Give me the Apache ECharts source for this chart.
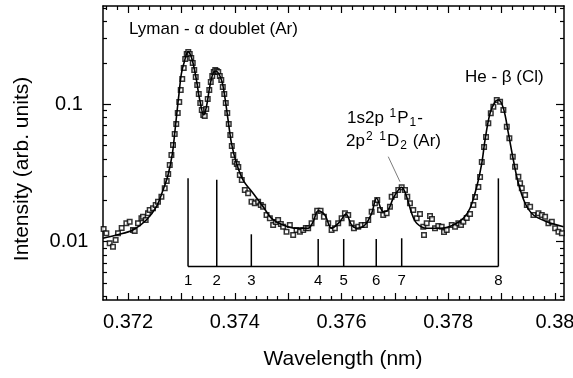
<!DOCTYPE html>
<html>
<head>
<meta charset="utf-8">
<script src="https://cdn.jsdelivr.net/npm/echarts@6/dist/echarts.min.js"></script>
<style>html,body{margin:0;padding:0;background:#fff}#c{width:573px;height:378px}</style>
</head>
<body>
<div id="c"></div>
<script>
// ---- data (wavelength nm, intensity arb. units) ----
const measured = [
[0.371542,0.01237],[0.371593,0.01151],[0.371655,0.00974],[0.371717,0.00920],[0.371767,0.01029],
[0.371811,0.01151],[0.371880,0.01258],[0.371968,0.01361],[0.372030,0.01398],[0.372092,0.01217],
[0.372124,0.01196],[0.372186,0.01361],[0.372250,0.01480],[0.372280,0.01520],[0.372330,0.01439],
[0.372373,0.01610],[0.372405,0.01701],[0.372467,0.01750],[0.372518,0.01850],[0.372561,0.01955],
[0.372625,0.02126],[0.372687,0.02447],[0.372724,0.02766],[0.372752,0.03110],[0.372781,0.03616],
[0.372812,0.04276],[0.372842,0.05056],[0.372874,0.06079],[0.372903,0.07188],[0.372931,0.08644],
[0.372959,0.1039],[0.372987,0.1271],[0.373015,0.1528],[0.373043,0.1838],[0.373071,0.2137],
[0.373099,0.2323],[0.373128,0.2402],[0.373156,0.2323],[0.373184,0.2173],[0.373212,0.1998],
[0.373240,0.1777],[0.373268,0.1580],[0.373296,0.1382],[0.373325,0.1188],[0.373353,0.1022],
[0.373381,0.09089],[0.373409,0.08358],[0.373437,0.08219],[0.373465,0.09242],[0.373493,0.1093],
[0.373522,0.1271],[0.373550,0.1453],[0.373578,0.1607],[0.373606,0.1718],[0.373634,0.1777],
[0.373662,0.1747],[0.373690,0.1718],[0.373719,0.1607],[0.373747,0.1503],[0.373775,0.1337],
[0.373803,0.1188],[0.373831,0.1022],[0.373859,0.08644],[0.373887,0.07188],[0.373916,0.05978],
[0.373944,0.04972],[0.373972,0.04276],[0.374000,0.03822],[0.374038,0.03677],[0.374066,0.03497],
[0.374094,0.03058],[0.374131,0.02812],[0.374188,0.02378],[0.374250,0.02250],[0.374313,0.01955],
[0.374375,0.01903],[0.374437,0.01955],[0.374488,0.01850],[0.374531,0.01798],[0.374595,0.01564],
[0.374657,0.01480],[0.374719,0.01323],[0.374769,0.01391],[0.374812,0.01439],[0.374863,0.01345],
[0.374906,0.01286],[0.374970,0.01182],[0.375032,0.01323],[0.375094,0.01119],[0.375158,0.01217],
[0.375220,0.01182],[0.375282,0.01217],[0.375332,0.01258],[0.375375,0.01252],[0.375439,0.01361],
[0.375501,0.01520],[0.375544,0.01681],[0.375608,0.01681],[0.375670,0.01520],[0.375751,0.01361],
[0.375814,0.01217],[0.375876,0.01252],[0.375938,0.01361],[0.376002,0.01480],[0.376064,0.01610],
[0.376126,0.01564],[0.376190,0.01361],[0.376233,0.01252],[0.376313,0.01286],[0.376377,0.01323],
[0.376439,0.01323],[0.376501,0.01439],[0.376565,0.01653],[0.376627,0.01903],[0.376670,0.02011],
[0.376721,0.01701],[0.376782,0.01564],[0.376846,0.01610],[0.376908,0.01798],[0.376940,0.02126],
[0.377002,0.02187],[0.377064,0.02378],[0.377128,0.02488],[0.377190,0.02378],[0.377233,0.02126],
[0.377283,0.01903],[0.377345,0.01701],[0.377409,0.01480],[0.377471,0.01591],[0.377533,0.01286],
[0.377546,0.01119],[0.377597,0.01361],[0.377659,0.01538],[0.377696,0.01463],[0.377752,0.01252],
[0.377814,0.01301],[0.377878,0.01286],[0.377921,0.01177],[0.377972,0.01217],[0.378066,0.01323],
[0.378128,0.01286],[0.378190,0.01361],[0.378240,0.01323],[0.378283,0.01398],[0.378347,0.01488],
[0.378409,0.01591],[0.378471,0.01850],[0.378503,0.02115],[0.378565,0.02501],[0.378597,0.02957],
[0.378629,0.03802],[0.378672,0.04889],[0.378709,0.05781],[0.378752,0.07273],[0.378798,0.08600],
[0.378846,0.09606],[0.378910,0.1075],[0.378972,0.1045],[0.379034,0.09089],[0.379098,0.06870],
[0.379146,0.05657],[0.379210,0.04156],[0.379253,0.03514],[0.379315,0.02972],[0.379347,0.02661],
[0.379379,0.02447],[0.379441,0.02187],[0.379473,0.01850],[0.379535,0.01798],[0.379597,0.01564],
[0.379691,0.01610],[0.379754,0.01564],[0.379816,0.01520],[0.379878,0.01361],[0.379942,0.01398],
[0.380004,0.01252],[0.380066,0.01182],[0.380130,0.01151]
];
const fitCurve = [
[0.371529,0.01059],[0.371780,0.01119],[0.372092,0.01217],[0.372343,0.01438],[0.372531,0.01798],
[0.372655,0.02378],[0.372749,0.03058],[0.372831,0.04398],[0.372874,0.06151],[0.372917,0.08835],
[0.372955,0.1202],[0.373000,0.1681],[0.373053,0.2032],[0.373124,0.2415],[0.373171,0.2285],
[0.373218,0.1988],[0.373281,0.1503],[0.373343,0.1075],[0.373418,0.0836],[0.373469,0.0961],
[0.373531,0.1343],[0.373593,0.1681],[0.373644,0.1748],[0.373750,0.1503],[0.373812,0.1136],
[0.373874,0.0769],[0.373938,0.0520],[0.374032,0.0372],[0.374156,0.0281],[0.374343,0.02251],
[0.374531,0.01798],[0.374689,0.01480],[0.374906,0.01323],[0.375158,0.01252],[0.375375,0.01252],
[0.375469,0.01398],[0.375563,0.01681],[0.375689,0.01564],[0.375814,0.01252],[0.375970,0.01398],
[0.376083,0.01591],[0.376189,0.01323],[0.376283,0.01252],[0.376439,0.01323],[0.376565,0.01609],
[0.376658,0.02070],[0.376782,0.01653],[0.376876,0.01701],[0.376970,0.02070],[0.377128,0.02488],
[0.377221,0.02126],[0.377315,0.01609],[0.377409,0.01361],[0.377597,0.01252],[0.377846,0.01252],
[0.378096,0.01323],[0.378283,0.01480],[0.378409,0.01750],[0.378535,0.02513],[0.378629,0.0372],
[0.378690,0.0550],[0.378784,0.0860],[0.378878,0.1044],[0.378940,0.1075],[0.379034,0.0935],
[0.379128,0.0615],[0.379221,0.0393],[0.379315,0.0266],[0.379441,0.01904],[0.379597,0.01564],
[0.379848,0.01398],[0.380160,0.01286]
];
const lineWavelength = [0.373124,0.373662,0.374310,0.375563,0.376041,0.376651,0.377128,0.378940];
const lineTop = [0.0289,0.0282,0.01132,0.01046,0.01046,0.01046,0.01059,0.0289];
const lineLabels = ['1','2','3','4','5','6','7','8'];
const lineBase = 0.0066;
const leader = [[0.376876,0.04156],[0.377096,0.02733]];

// ---- axis ticks / labels ----
const xMin = 0.37153, xMax = 0.38017;
const yMin = 0.003764, yMax = 0.519;
const xLabelValues = [0.372,0.374,0.376,0.378,0.380];
const xMajorTicks = [0.372,0.373,0.374,0.375,0.376,0.377,0.378,0.379,0.380];
const xMinorTicks = [0.3716,0.3718,0.3722,0.3724,0.3726,0.3728,0.3732,0.3734,0.3736,0.3738,
  0.3742,0.3744,0.3746,0.3748,0.3752,0.3754,0.3756,0.3758,0.3762,0.3764,0.3766,0.3768,
  0.3772,0.3774,0.3776,0.3778,0.3782,0.3784,0.3786,0.3788,0.3792,0.3794,0.3796,0.3798];
const yLabelValues = [0.01,0.1];
const yMinorTicks = [0.004,0.005,0.006,0.007,0.008,0.009,0.02,0.03,0.04,0.05,0.06,0.07,0.08,0.09,0.2,0.3,0.4,0.5];

const FONT = '"Liberation Sans", Arial, Helvetica, sans-serif';
const black = '#000';

function xAx(pos, ticks, len, labels, line) {
  return {
    type: 'value', position: pos, min: xMin, max: xMax, gridIndex: 0,
    axisLine: {show: line, onZero: false, lineStyle: {color: black, width: 1.5}},
    axisTick: {show: true, inside: true, length: len, customValues: ticks, lineStyle: {color: black, width: 1.2}},
    axisLabel: labels ? {show: true, customValues: xLabelValues, fontSize: 20, color: black, fontFamily: FONT, margin: 12} : {show: false},
    splitLine: {show: false}
  };
}
function yAx(pos, ticks, len, labels, line) {
  return {
    type: 'log', logBase: 10, position: pos, min: yMin, max: yMax, gridIndex: 0,
    axisLine: {show: line, onZero: false, lineStyle: {color: black, width: 1.5}},
    axisTick: {show: true, inside: true, length: len, customValues: ticks, lineStyle: {color: black, width: 1.2}},
    axisLabel: labels ? {show: true, customValues: yLabelValues, fontSize: 20, color: black, fontFamily: FONT,
      margin: 34, align: 'center', formatter: function (v) { return String(+v.toPrecision(3)); }} : {show: false},
    splitLine: {show: false}, minorTick: {show: false}
  };
}

const chart = echarts.init(document.getElementById('c'), null, {renderer: 'canvas'});
chart.setOption({
  animation: false,
  backgroundColor: '#fff',
  grid: {left: 103, right: 9, top: 6, bottom: 78, containLabel: false, outerBoundsMode: 'none'},
  xAxis: [
    xAx('bottom', xMajorTicks, 7, true, true),
    xAx('bottom', xMinorTicks, 4, false, false),
    xAx('top', xMajorTicks, 7, false, true),
    xAx('top', xMinorTicks, 4, false, false)
  ],
  yAxis: [
    yAx('left', yLabelValues, 8, true, true),
    yAx('left', yMinorTicks, 4, false, false),
    yAx('right', yLabelValues, 8, false, true),
    yAx('right', yMinorTicks, 4, false, false)
  ],
  graphic: [
    {type: 'text', x: 129, y: 29, style: {text: 'Lyman - α doublet (Ar)', font: '17px ' + FONT, fill: black, verticalAlign: 'middle'}},
    {type: 'text', x: 465, y: 77, style: {text: 'He - β (Cl)', font: '17px ' + FONT, fill: black, verticalAlign: 'middle'}},
    {type: 'text', x: 347, y: 118, style: {
      text: '{a|1s2p }{sup|1}{a|P}{sub|1}{a|-}', verticalAlign: 'middle',
      rich: {
        a: {fontSize: 17, fontFamily: FONT, fill: black, color: black},
        sup: {fontSize: 12, fontFamily: FONT, fill: black, color: black, padding: [0, 1, 9, 1]},
        sub: {fontSize: 12, fontFamily: FONT, fill: black, color: black, padding: [9, 1, 0, 1]}
      }}},
    {type: 'text', x: 346, y: 141, style: {
      text: '{a|2p}{sup|2}{a| }{sup|1}{a|D}{sub|2}{a| (Ar)}', verticalAlign: 'middle',
      rich: {
        a: {fontSize: 17, fontFamily: FONT, fill: black, color: black},
        sup: {fontSize: 12, fontFamily: FONT, fill: black, color: black, padding: [0, 1, 9, 1]},
        sub: {fontSize: 12, fontFamily: FONT, fill: black, color: black, padding: [9, 1, 0, 1]}
      }}},
    {type: 'text', x: 22, y: 169, rotation: Math.PI / 2, style: {text: 'Intensity (arb. units)', font: '21px ' + FONT, fill: black, align: 'center', verticalAlign: 'middle'}},
    {type: 'text', x: 343, y: 359, style: {text: 'Wavelength (nm)', font: '21px ' + FONT, fill: black, align: 'center', verticalAlign: 'middle'}}
  ],
  series: [
    {
      type: 'custom', xAxisIndex: 0, yAxisIndex: 0, z: 2,
      data: lineWavelength.map(function (w, i) { return [w, lineTop[i], i]; }),
      renderItem: function (params, api) {
        const p1 = api.coord([api.value(0), lineBase]);
        const p2 = api.coord([api.value(0), api.value(1)]);
        return {type: 'group', children: [
          {type: 'line', shape: {x1: p1[0], y1: p1[1], x2: p2[0], y2: p2[1]}, style: {stroke: black, lineWidth: 1.5}},
          {type: 'text', x: p1[0], y: p1[1] + 7, style: {text: lineLabels[api.value(2)], font: '15px ' + FONT, fill: black, align: 'center', verticalAlign: 'top'}}
        ]};
      }
    },
    {
      type: 'line', xAxisIndex: 0, yAxisIndex: 0, z: 2, symbol: 'none',
      data: [[lineWavelength[0], lineBase], [lineWavelength[lineWavelength.length - 1], lineBase]],
      lineStyle: {color: black, width: 1.5}
    },
    {
      type: 'line', xAxisIndex: 0, yAxisIndex: 0, z: 2, symbol: 'none',
      data: leader, lineStyle: {color: '#444', width: 0.7}
    },
    {
      type: 'scatter', xAxisIndex: 0, yAxisIndex: 0, z: 3,
      data: measured, symbol: 'rect', symbolSize: 4.5,
      itemStyle: {color: '#fff', borderColor: black, borderWidth: 1.5}
    },
    {
      type: 'line', xAxisIndex: 0, yAxisIndex: 0, z: 4, symbol: 'none', smooth: 0.35,
      data: fitCurve, lineStyle: {color: black, width: 1.6}
    }
  ]
});
</script>
</body>
</html>
